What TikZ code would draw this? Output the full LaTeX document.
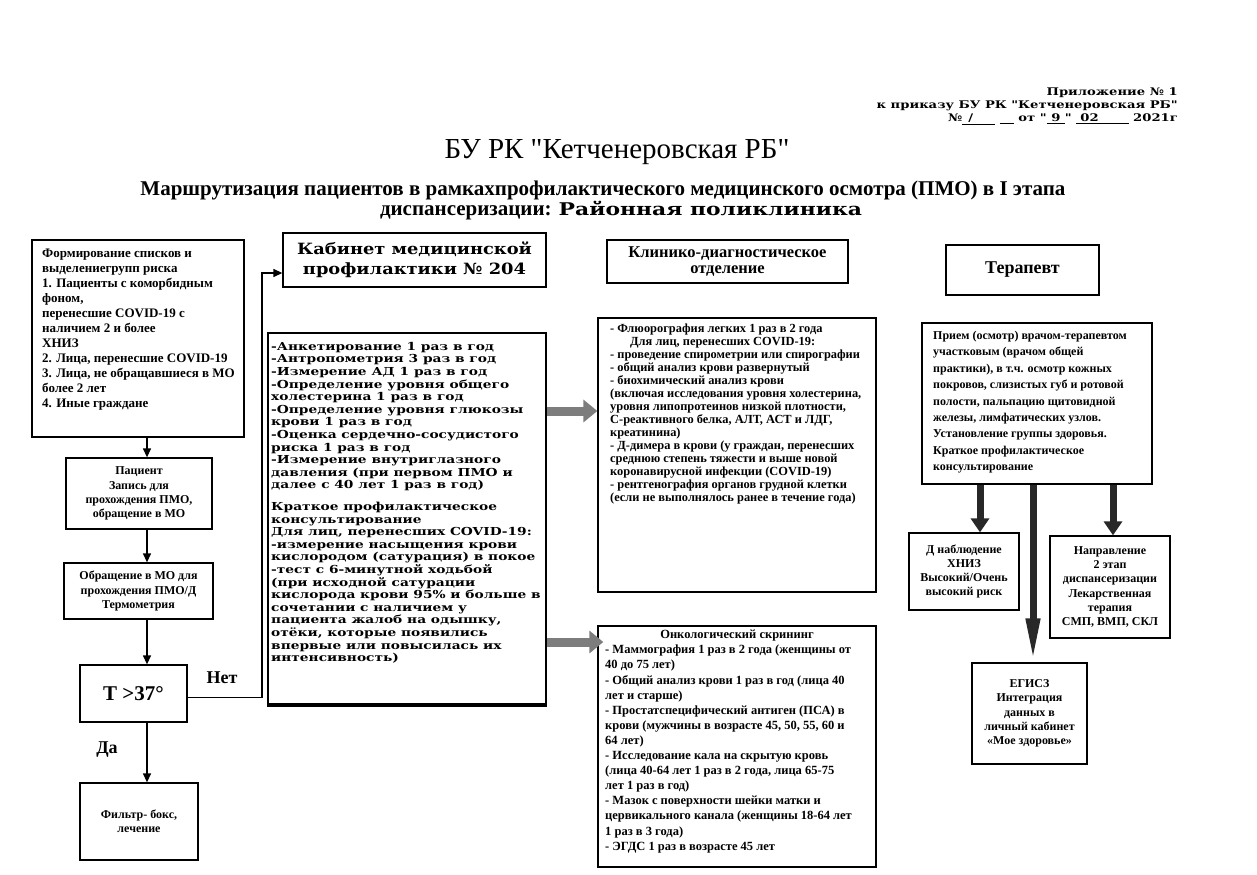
\documentclass[tikz,border=0pt]{standalone}
\usepackage{fontspec}
\setmainfont{Liberation Serif}[Ligatures=TeXOff]
\newfontfamily\widefnt{DejaVu Serif}[FakeStretch=1.25]
\newfontfamily\widefntB{DejaVu Serif}[FakeStretch=1.15]
\usetikzlibrary{arrows.meta,calc}
\newcommand\fntHdr{\widefnt\bfseries\fontsize{10.5bp}{13bp}\selectfont}
\newcommand\fntTa{\fontsize{29bp}{32bp}\selectfont}
\newcommand\fntTb{\bfseries\fontsize{21bp}{24bp}\selectfont}
\newcommand\fntL{\bfseries\fontsize{13bp}{15bp}\selectfont}
\newcommand\fntS{\bfseries\fontsize{12bp}{14.3bp}\selectfont}
\newcommand\fntMid{\widefnt\bfseries\fontsize{11bp}{12.6bp}\selectfont}
\newcommand\fntKab{\widefntB\bfseries\fontsize{15.5bp}{20bp}\selectfont}
\newcommand\fntKdo{\bfseries\fontsize{12.4bp}{13bp}\selectfont}
\newcommand\fntOnk{\bfseries\fontsize{12.5bp}{15.1bp}\selectfont}
\newcommand\fntTer{\bfseries\fontsize{12bp}{16.4bp}\selectfont}
\newcommand\fntHead{\bfseries\fontsize{16.5bp}{16bp}\selectfont}
\begin{document}
\begin{tikzpicture}[x=1bp,y=-1bp,
  box/.style={draw, line width=1.3bp, inner sep=0pt},
  txt/.style={inner sep=0pt, align=left, anchor=north west},
  arr/.style={line width=1.3bp, -{Triangle[length=9bp,width=8bp]}},
  grayarr/.style={line width=9bp, draw={rgb,255:red,125;green,125;blue,125}, -{Triangle[length=14bp,width=22bp]}},
  thickarr/.style={line width=7bp, draw={rgb,255:red,40;green,40;blue,40}, -{Triangle[length=14bp,width=18bp]}},
  lbl/.style={inner sep=0pt, font=\bfseries\fontsize{18bp}{20bp}\selectfont}]
\useasboundingbox (0,0) rectangle (1257,875);

% header
\node[anchor=east, inner sep=0pt, font=\fntHdr] (h1) at (1178,93) {Приложение № 1};
\node[anchor=east, inner sep=0pt, font=\fntHdr] (h2) at (1178,106) {к приказу БУ РК "Кетченеровская РБ"};
\node[anchor=east, inner sep=0pt, font=\fntHdr] (h3) at (1178,119) {№\underline{\hspace{6bp}/\hspace{22bp}}\ \underline{\hspace{14bp}} от "\underline{\ 9\ }" \underline{\hspace{4bp}02\hspace{30bp}} 2021г};

% titles
\node[inner sep=0pt, font=\fntTa] (t1) at (617,152) {БУ РК "Кетченеровская РБ"};
\node[inner sep=0pt, font=\fntTb] (t2) at (603,190) {Маршрутизация пациентов в рамкахпрофилактического медицинского осмотра (ПМО) в I этапа};
\node[inner sep=0pt, font=\fntTb] (t3) at (621,211) {диспансеризации: {\widefnt\bfseries\fontsize{17.5bp}{20bp}\selectfont Районная поликлиника}};

% left column
\node[box, minimum width=212bp, minimum height=197bp] (b1) at (138,338.5) {};
\node[txt, font=\fntL] (b1t) at (42,249) {Формирование списков и\\выделениегрупп риска\\1. Пациенты с коморбидным\\фоном,\\перенесшие COVID-19 с\\наличием 2 и более\\ХНИЗ\\2. Лица, перенесшие COVID-19\\3. Лица, не обращавшиеся в МО\\более 2 лет\\4. Иные граждане};
\node[box, minimum width=146bp, minimum height=71bp, align=center, font=\fntS] (b2) at (139,493.5) {Пациент\\Запись для\\прохождения ПМО,\\обращение в МО};
\node[box, minimum width=149bp, minimum height=56bp, align=center, font=\fntS] (b3) at (138.5,591) {Обращение в МО для\\прохождения ПМО/Д\\Термометрия};
\node[box, minimum width=107bp, minimum height=57bp, font=\bfseries\fontsize{21bp}{24bp}\selectfont] (b4) at (133.5,693.5) {Т >37°};
\node[box, minimum width=118bp, minimum height=77bp, align=center, font=\fntS] (b5) at (139,821.5) {Фильтр- бокс,\\лечение};
\coordinate (colx) at (147,0);
\draw[arr] (b1.south -| colx) -- (b2.north -| colx);
\draw[arr] (b2.south -| colx) -- (b3.north -| colx);
\draw[arr] (b3.south -| colx) -- (b4.north -| colx);
\draw[arr] (b4.south -| colx) -- (b5.north -| colx);
\node[lbl] (net) at (222,678) {Нет};
\node[lbl] (da) at (107,750) {Да};

% middle column
\node[box, minimum width=263bp, minimum height=54bp, align=center, font=\fntKab] (kab) at (414.5,260) {Кабинет медицинской\\профилактики № 204};
\coordinate (turn) at (262,0);
\coordinate (kabin) at ($(kab.west)+(0,13)$);
\coordinate (b4out) at ($(b4.east)+(0,4)$);
\draw[arr] (b4out) -- (b4out -| turn) -- (turn |- kabin) -- (kabin);
\node[box, minimum width=278bp, minimum height=373bp] (mid) at (407,519.5) {};
\draw[line width=4bp] ($(mid.south west)+(0,-2)$) -- ($(mid.south east)+(0,-2)$);
\node[txt, font=\fntMid] (midt) at (271,342) {-Анкетирование 1 раз в год\\-Антропометрия 3 раз в год\\-Измерение АД 1 раз в год\\-Определение уровня общего\\холестерина 1 раз в год\\-Определение уровня глюкозы\\крови 1 раз в год\\-Оценка сердечно-сосудистого\\риска 1 раз в год\\-Измерение внутриглазного\\давления (при первом ПМО и\\далее с 40 лет 1 раз в год)\\[9bp]Краткое профилактическое\\консультирование\\Для лиц, перенесших COVID-19:\\-измерение насыщения крови\\кислородом (сатурация) в покое\\-тест с 6-минутной ходьбой\\(при исходной сатурации\\кислорода крови 95\% и больше в\\сочетании с наличием у\\пациента жалоб на одышку,\\отёки, которые появились\\впервые или повысилась их\\интенсивность)};

% clinical column
\node[box, minimum width=241bp, minimum height=43bp, align=center, font=\fntHead] (klin) at (727.5,261.5) {Клинико-диагностическое\\отделение};
\node[box, minimum width=278bp, minimum height=274bp] (kdo) at (737,455) {};
\node[txt, font=\fntKdo] (kdot) at (610,324) {- Флюорография легких 1 раз в 2 года\\\hspace*{20bp}Для лиц, перенесших COVID-19:\\- проведение спирометрии или спирографии\\- общий анализ крови развернутый\\- биохимический анализ крови\\(включая исследования уровня холестерина,\\уровня липопротеинов низкой плотности,\\С-реактивного белка, АЛТ, АСТ и ЛДГ,\\креатинина)\\- Д-димера в крови (у граждан, перенесших\\среднюю степень тяжести и выше новой\\коронавирусной инфекции (COVID-19)\\- рентгенография органов грудной клетки\\(если не выполнялось ранее в течение года)};
\node[box, minimum width=278bp, minimum height=241bp] (onk) at (737,746.5) {};
\node[inner sep=0pt, font=\fntOnk] (onkh) at (737,636) {Онкологический скрининг};
\node[txt, font=\fntOnk] (onkt) at (605,645) {- Маммография 1 раз в 2 года (женщины от\\40 до 75 лет)\\- Общий анализ крови 1 раз в год (лица 40\\лет и старше)\\- Простатспецифический антиген (ПСА) в\\крови (мужчины в возрасте 45, 50, 55, 60 и\\64 лет)\\- Исследование кала на скрытую кровь\\(лица 40-64 лет 1 раз в 2 года, лица 65-75\\лет 1 раз в год)\\- Мазок с поверхности шейки матки и\\цервикального канала (женщины 18-64 лет\\1 раз в 3 года)\\- ЭГДС 1 раз в возрасте 45 лет};
\coordinate (g1) at (0,411);
\coordinate (g2) at (0,642);
\draw[grayarr] (mid.east |- g1) -- (kdo.west |- g1);
\draw[grayarr] (mid.east |- g2) -- ($(onk.west |- g2)+(6,0)$);

% therapist column
\node[box, minimum width=153bp, minimum height=50bp, font=\bfseries\fontsize{18bp}{20bp}\selectfont] (ter) at (1022.5,270) {Терапевт};
\node[box, minimum width=230bp, minimum height=161bp] (terb) at (1037,403.5) {};
\node[txt, font=\fntTer] (terbt) at (933,331) {Прием (осмотр) врачом-терапевтом\\участковым (врачом общей\\практики), в т.ч. осмотр кожных\\покровов, слизистых губ и ротовой\\полости, пальпацию щитовидной\\железы, лимфатических узлов.\\Установление группы здоровья.\\Краткое профилактическое\\консультирование};
\node[box, minimum width=110bp, minimum height=77bp, align=center, font=\fntS] (dn) at (964,571.5) {Д наблюдение\\ХНИЗ\\Высокий/Очень\\высокий риск};
\node[box, minimum width=120bp, minimum height=102bp, align=center, font=\fntS] (napr) at (1110,587) {Направление\\2 этап\\диспансеризации\\Лекарственная\\терапия\\СМП, ВМП, СКЛ};
\node[box, minimum width=115bp, minimum height=101bp, align=center, font=\fntS] (egisz) at (1029.5,713.5) {ЕГИСЗ\\Интеграция\\данных в\\личный кабинет\\«Мое здоровье»};
\coordinate (a1) at (980,0);
\coordinate (a2) at (1033,0);
\coordinate (a3) at (1113,0);
\draw[thickarr] (terb.south -| a1) -- (dn.north -| a1);
\draw[line width=7bp, draw={rgb,255:red,40;green,40;blue,40}, -{Triangle[length=44bp,width=13bp]}] (terb.south -| a2) -- (egisz.north -| a2);
\draw[thickarr] (terb.south -| a3) -- (napr.north -| a3);
\end{tikzpicture}
\end{document}
